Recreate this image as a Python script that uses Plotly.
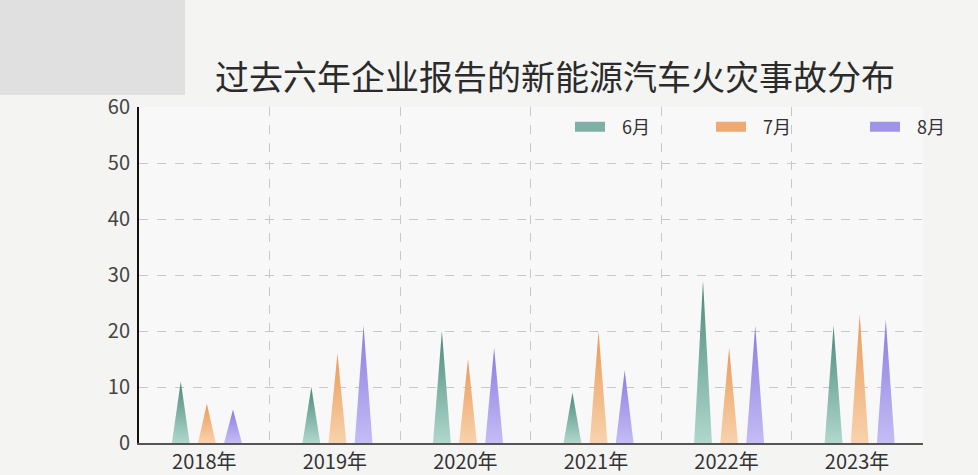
# 新能源汽车火灾事故分布 - spike bars
import plotly.graph_objects as go

years = ['2018年', '2019年', '2020年', '2021年', '2022年', '2023年']
months = ['6月', '7月', '8月']
jun = [11, 10, 20, 9, 29, 21]
jul = [7, 16, 15, 20, 17, 23]
aug = [6, 21, 17, 13, 21, 22]

series = [jun, jul, aug]
# (bottom colour, top colour, legend colour)
colors = [('#b0d7cc', '#4a8a7a', '#7fb0a5'),
          ('#f8d2ac', '#ea9a58', '#eeaa72'),
          ('#c4bcf5', '#8a7ddf', '#9f94e8')]
offsets = [-0.18, 0.02, 0.22]
half_w = 0.068
legend_ids = ['legend', 'legend2', 'legend3']
legend_px = [570, 711, 865]   # left edge of each legend item, px

fig = go.Figure()

for k, vals in enumerate(series):
    lo, hi, leg = colors[k]
    for i, v in enumerate(vals):
        c = i + offsets[k]
        fig.add_trace(go.Scatter(
            x=[c - half_w, c, c + half_w, c - half_w],
            y=[0, v, 0, 0],
            mode='lines', line=dict(width=0),
            fill='toself',
            fillgradient=dict(type='vertical', colorscale=[[0, lo], [1, hi]]),
            hoverinfo='text', text=f'{years[i]} {months[k]}: {v}',
            showlegend=False
        ))
    # legend entry
    fig.add_trace(go.Scatter(
        x=[None], y=[None], mode='lines',
        line=dict(width=11, color=leg),
        name='   ' + months[k], legend=legend_ids[k]
    ))

# plot area in pixels: x 139..923, y 107..443
W, H = 978, 475
L, R, T, B = 139, 55, 107, 32
pw, ph = W - L - R, H - T - B

def px_x(x):
    return (x - L) / pw

def px_y(y):
    return (H - B - y) / ph

grid = dict(showgrid=True, gridcolor='#c8c8c8', griddash='dash', gridwidth=1)

legends = {}
for k, lid in enumerate(legend_ids):
    legends[lid] = dict(
        orientation='h', x=px_x(legend_px[k]), xanchor='left',
        y=px_y(127), yanchor='middle',
        bgcolor='rgba(0,0,0,0)',
        font=dict(size=18, color='#333333'),
    )

fig.update_layout(
    width=W, height=H,
    margin=dict(l=L, r=R, t=T, b=B, autoexpand=False),
    paper_bgcolor='#f4f4f3',
    plot_bgcolor='#f8f8f8',
    font=dict(family='Noto Sans CJK SC, Noto Sans, sans-serif', color='#333333'),
    title=dict(text='过去六年企业报告的新能源汽车火灾事故分布',
               x=555 / W, xanchor='center', y=1 - 78 / H, yanchor='middle',
               font=dict(size=34, color='#2b2b2b')),
    xaxis=dict(
        range=[-0.5, 5.505], automargin=False,
        tickvals=list(range(len(years))), ticktext=years,
        tickfont=dict(size=20, color='#333333'),
        showgrid=False, zeroline=False,
        showline=True, linecolor='#555555', linewidth=2,
        ticks='', ticklabelstandoff=0,
        minor=dict(tickvals=[i - 0.5 for i in range(len(years) + 1)], **grid),
    ),
    yaxis=dict(
        range=[0, 60], dtick=10, automargin=False,
        tickfont=dict(size=20, color='#444444'),
        zeroline=False,
        showline=True, linecolor='#111111', linewidth=2,
        ticks='', ticklabelstandoff=3,
        **grid
    ),
    shapes=[dict(
        type='rect', xref='paper', yref='paper', layer='below',
        x0=px_x(0), x1=px_x(185), y0=px_y(95), y1=px_y(0),
        fillcolor='#e0e0e0', line=dict(width=0)
    )],
    **legends
)

fig.write_html("out.html", config={'displayModeBar': False},
               post_script="document.body.style.margin='0';")
